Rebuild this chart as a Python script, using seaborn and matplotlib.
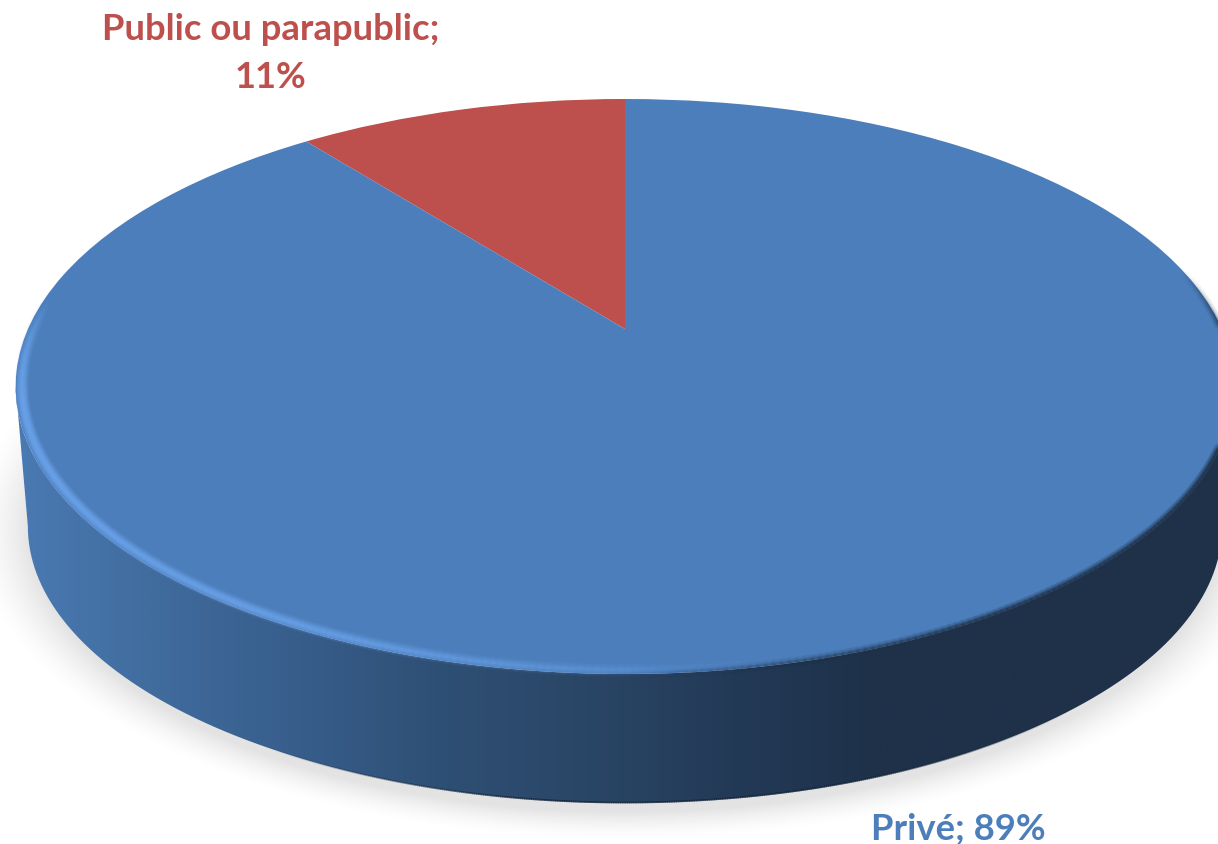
import matplotlib
matplotlib.use('Agg')
import matplotlib.pyplot as plt
import numpy as np
import seaborn as sns
from matplotlib.collections import LineCollection
from matplotlib.colors import LinearSegmentedColormap, to_rgb
from matplotlib.patches import PathPatch
from matplotlib.path import Path
from matplotlib.transforms import Transform

# Data
categories = ['Public ou parapublic', 'Privé']
values = [10.6, 89.4]
colors = ['#bd4f4c', '#4c7ebb']
side_stops = ['#4a7ab3', '#406b9d', '#375d8a', '#2e4f74', '#2a4666', '#233a57', '#1e3149', '#1e3149']

sns.set_theme(style='white')
plt.rcParams['font.family'] = ['Lato', 'DejaVu Sans']

W, H = 1218, 845
APEX_X, APEX_Y = 625, 330
K, A, C = 597, -210, 0.2
MID_Y = 388


def persp(u, v):
    # flat pie -> tilted disc with perspective
    d = C * v + 1
    return APEX_X + K * u / d, (A * v + APEX_Y) / d


class Tilt(Transform):
    input_dims = 2
    output_dims = 2

    def transform_non_affine(self, xy):
        xy = np.asarray(xy, dtype=float)
        x, y = persp(xy[:, 0], xy[:, 1])
        return np.column_stack([x, y])


def lower(x, y):
    # bottom rim of the disc
    return APEX_X + 0.98 * (x - APEX_X), MID_Y + 140 + 0.96 * (y - MID_Y)


def arc(r, t0, t1, n=400):
    t = np.radians(np.linspace(t0, t1, n))
    x, y = persp(r * np.cos(t), r * np.sin(t))
    return x, y, np.degrees(t)


def fade_line(ax, x, y, t, lw, rgb, alpha, z):
    pts = np.column_stack([x, y]).reshape(-1, 1, 2)
    segs = np.concatenate([pts[:-1], pts[1:]], axis=1)
    rgba = np.zeros((len(segs), 4))
    rgba[:, :3] = to_rgb(rgb)
    rgba[:, 3] = alpha(t[:-1])
    ax.add_collection(LineCollection(segs, colors=rgba, linewidths=lw, zorder=z, capstyle='round'))


def rim(ax, r, lw, rgb, alpha, t0=150, t1=400, z=6):
    x, y, t = arc(r, t0, t1)
    fade_line(ax, x, y, t, lw, rgb, alpha, z)


fig = plt.figure(figsize=(W / 100, H / 100), dpi=100)
ax = fig.add_axes([0, 0, 1, 1])

# soft shadow under the disc
yy, xx = np.mgrid[0:H, 0:W]
rr = np.sqrt(((xx - APEX_X) / 595) ** 2 + ((yy - 530) / 282) ** 2)
dist = (rr - 1) * 290
sh = np.clip(1 - dist / 30, 0, 1) ** 1.6 * 0.17
sh[yy < 380] = 0
img = np.zeros((H, W, 4))
img[..., :3] = 0.35
img[..., 3] = sh
ax.imshow(img, extent=(0, W, H, 0), aspect='auto', zorder=1, interpolation='bilinear')

# side wall
tx, ty, _ = arc(1, 180 + 11.5, 360 - 11.5)
bx, by = lower(tx, ty)
wall = np.column_stack([np.r_[tx, bx[::-1]], np.r_[ty, by[::-1]]])
wall_patch = PathPatch(Path(wall), fc='none', ec='none', transform=ax.transData)
ax.add_patch(wall_patch)
side_cmap = LinearSegmentedColormap.from_list('side', side_stops)
grad = np.linspace(0, 1, 512).reshape(1, -1)
side = ax.imshow(grad, extent=(15, 1020, H, 0), cmap=side_cmap, aspect='auto', zorder=2)
ax.imshow(np.ones((1, 2)), extent=(1020, W, H, 0), cmap=LinearSegmentedColormap.from_list('d', ['#1e3149', '#1e3149']),
          aspect='auto', zorder=2).set_clip_path(wall_patch)
side.set_clip_path(wall_patch)
ax_, ay_, at_ = arc(1, 240, 310)
ex, ey = lower(ax_, ay_)
fade_line(ax, ex, ey, at_, 1.3, '#14253a',
          lambda t: 0.7 * np.clip((t - 240) / 25, 0, 1) * np.clip((310 - t) / 25, 0, 1), 3)

# top of the pie
wedges, _ = ax.pie(values, colors=colors, startangle=90, counterclock=True, radius=1,
                   wedgeprops={'linewidth': 0})
tilt = Tilt()
for w in wedges:
    w.set_transform(tilt + ax.transData)
    w.set_zorder(5)
    w.set_antialiased(True)

# bevel along the front edge
light = lambda t: np.clip((t - 172) / 22, 0, 1) * np.clip((285 - t) / 45, 0, 1)
dark = lambda t: np.clip((t - 270) / 30, 0, 1) * np.clip((372 - t) / 30, 0, 1)
for lw, a in [(10, 0.08), (8, 0.12), (6, 0.18), (4, 0.25), (2, 0.3)]:
    rim(ax, 0.99, lw, '#6ba3ea', lambda t, a=a: light(t) * a)
for lw, a in [(7, 0.14), (4, 0.25), (2, 0.45)]:
    rim(ax, 0.998, lw, '#1e3149', lambda t, a=a: dark(t) * a)

ax.set_aspect('auto')
ax.set_xlim(0, W)
ax.set_ylim(H, 0)
ax.axis('off')

# labels
ax.text(271, 30, f'{categories[0]};', color=colors[0], fontsize=26.2, fontweight='bold', ha='center', va='center', zorder=8)
ax.text(271, 77, f'{round(values[0])}%', color=colors[0], fontsize=26.2, fontweight='bold', ha='center', va='center', zorder=8)
ax.text(958, 829, f'{categories[1]}; {round(values[1])}%', color=colors[1], fontsize=26.2, fontweight='bold', ha='center', va='center', zorder=8)

fig.savefig('out.png', dpi=100)
